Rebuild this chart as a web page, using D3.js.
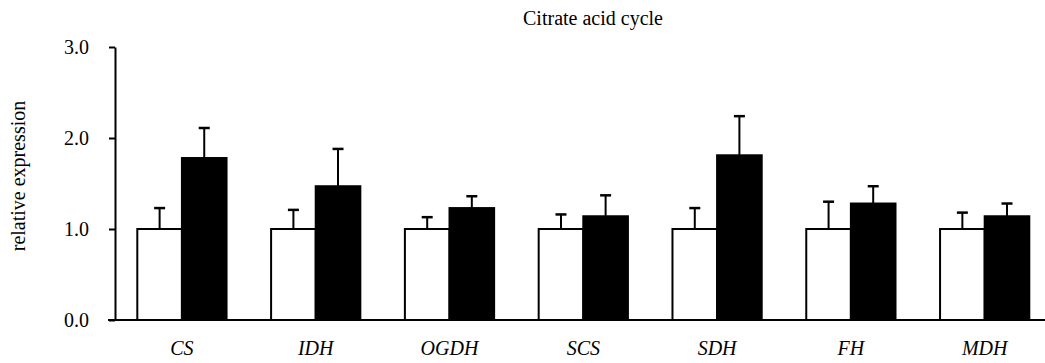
<!DOCTYPE html>
<html lang="en">
<head>
    <meta charset="UTF-8">
    <title>Citrate acid cycle</title>
    <script src="https://d3js.org/d3.v7.min.js"></script>
    <style>
        body { margin: 0; background: #fff; }
        text { font-family: "Liberation Serif", "Times New Roman", serif; fill: #000; }
    </style>
</head>
<body>
<div id="chart"></div>
<script>
    // Data
    var genes = ["CS", "IDH", "OGDH", "SCS", "SDH", "FH", "MDH"];
    var controlMean = [1.0, 1.0, 1.0, 1.0, 1.0, 1.0, 1.0];
    var controlErr = [0.23, 0.21, 0.13, 0.16, 0.23, 0.30, 0.18];
    var treatedMean = [1.78, 1.47, 1.23, 1.14, 1.81, 1.28, 1.14];
    var treatedErr = [0.33, 0.41, 0.13, 0.23, 0.43, 0.19, 0.14];
    var yTicks = [0, 1, 2, 3];

    var width = 1045, height = 363;
    var marginLeft = 115, plotBottom = 320, plotTop = 47;

    var svg = d3.select("#chart")
        .append("svg")
        .attr("width", width)
        .attr("height", height);

    var x0 = d3.scaleBand()
        .domain(genes)
        .range([marginLeft, marginLeft + 7 * 133.8])
        .paddingInner(0.333)
        .paddingOuter(0.1667);

    var x1 = d3.scaleBand()
        .domain(["control", "treated"])
        .range([0, x0.bandwidth()]);

    var y = d3.scaleLinear()
        .domain([0, 3])
        .range([plotBottom, plotTop]);

    // Title
    svg.append("text")
        .attr("x", 593)
        .attr("y", 25)
        .attr("text-anchor", "middle")
        .style("font-size", "20px")
        .text("Citrate acid cycle");

    // Y axis label
    svg.append("text")
        .attr("transform", "translate(25,176) rotate(-90)")
        .attr("text-anchor", "middle")
        .style("font-size", "20px")
        .text("relative expression");

    var flat = [];
    genes.forEach(function(g, i) {
        flat.push({gene: g, key: "control", value: controlMean[i], err: controlErr[i]});
        flat.push({gene: g, key: "treated", value: treatedMean[i], err: treatedErr[i]});
    });

    function cx(d) { return x0(d.gene) + x1(d.key) + x1.bandwidth() / 2; }

    // Error bars (drawn first so bars cover the lower part)
    var eb = svg.append("g").attr("class", "errors")
        .selectAll("g")
        .data(flat)
        .enter().append("g")
        .attr("stroke", "#000")
        .attr("stroke-width", 2);

    eb.append("line")
        .attr("x1", cx)
        .attr("x2", cx)
        .attr("y1", function(d) { return y(d.value); })
        .attr("y2", function(d) { return y(d.value + d.err); });

    eb.append("line")
        .attr("x1", function(d) { return cx(d) - 5.5; })
        .attr("x2", function(d) { return cx(d) + 5.5; })
        .attr("y1", function(d) { return y(d.value + d.err); })
        .attr("y2", function(d) { return y(d.value + d.err); })
        .attr("stroke-width", 2.5);

    // Bars
    svg.append("g").attr("class", "bars")
        .selectAll("rect")
        .data(flat)
        .enter().append("rect")
        .attr("x", function(d) { return x0(d.gene) + x1(d.key); })
        .attr("y", function(d) { return y(d.value); })
        .attr("width", x1.bandwidth())
        .attr("height", function(d) { return plotBottom - y(d.value); })
        .attr("fill", function(d) { return d.key === "control" ? "#fff" : "#000"; })
        .attr("stroke", "#000")
        .attr("stroke-width", 2);

    // Y axis
    var yAxis = d3.axisLeft(y)
        .tickValues(yTicks)
        .tickFormat(d3.format(".1f"))
        .tickSize(6)
        .tickSizeOuter(0)
        .tickPadding(20);

    var gy = svg.append("g")
        .attr("transform", "translate(" + marginLeft + ",0)")
        .call(yAxis);
    gy.select(".domain").attr("stroke-width", 2);
    gy.selectAll(".tick line").attr("stroke-width", 2);
    gy.selectAll(".tick text")
        .style("font-size", "20px")
        .style("font-family", "Liberation Serif, serif");

    // X axis
    var xAxis = d3.axisBottom(x0).tickSize(0).tickSizeOuter(0).tickPadding(21);
    var gx = svg.append("g")
        .attr("transform", "translate(0," + plotBottom + ")")
        .call(xAxis);
    gx.select(".domain")
        .attr("d", "M" + (marginLeft - 7) + ",0H" + width)
        .attr("stroke-width", 2);
    gx.selectAll(".tick text")
        .style("font-size", "20px")
        .style("font-style", "italic")
        .style("font-family", "Liberation Serif, serif");
</script>
</body>
</html>
